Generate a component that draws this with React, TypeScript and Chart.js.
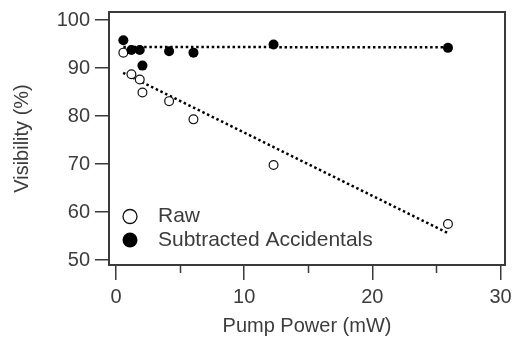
import React, { useEffect, useRef } from "react";
import { Chart, registerables } from "chart.js";

Chart.register(...registerables);

// Data
const pumpPower = [0.57, 1.2, 1.85, 2.06, 4.14, 6.04, 12.29, 25.9];
const rawVisibility = [93.2, 88.7, 87.6, 84.9, 83.1, 79.3, 69.8, 57.5];
const subtractedVisibility = [95.8, 93.75, 93.75, 90.5, 93.5, 93.2, 94.9, 94.2];

const rawFitX = [0.55, 25.9];
const rawFitY = [89.0, 55.6];
const subFitX = [0.57, 25.9];
const subFitY = [94.4, 94.3];

const yTicks = [50, 60, 70, 80, 90, 100];
const xTicks = [0, 10, 20, 30];
const xMinorTicks = [5, 15, 25];

const legendLabels = ["Raw", "Subtracted Accidentals"];

const FONT = "'Liberation Sans', Arial, sans-serif";
const TEXT = "#3c3c3c";
const AXIS = "#3a3a3a";

const toPts = (xs: number[], ys: number[]) => xs.map((x, i) => ({ x, y: ys[i] }));

const boxPlugin = {
  id: "boxAndExtras",
  afterDraw(chart: any) {
    const { ctx, chartArea, scales } = chart;
    const { left, right, top, bottom } = chartArea;
    ctx.save();
    // frame
    ctx.strokeStyle = AXIS;
    ctx.lineWidth = 2;
    ctx.strokeRect(left, top, right - left, bottom - top);
    // minor x ticks
    ctx.lineWidth = 1.5;
    ctx.beginPath();
    xMinorTicks.forEach((v) => {
      const px = Math.round(scales.x.getPixelForValue(v)) + 0.5;
      ctx.moveTo(px, bottom);
      ctx.lineTo(px, bottom + 8);
    });
    ctx.stroke();
    // legend
    const lx = left + 21;
    const rows = [top + 204.5, top + 228];
    ctx.font = `21px ${FONT}`;
    ctx.textBaseline = "middle";
    ctx.textAlign = "left";
    rows.forEach((y, i) => {
      ctx.beginPath();
      ctx.arc(lx, y, i === 0 ? 7 : 7.5, 0, Math.PI * 2);
      if (i === 0) {
        ctx.fillStyle = "#fff";
        ctx.fill();
        ctx.lineWidth = 1.3;
        ctx.strokeStyle = "#111";
        ctx.stroke();
      } else {
        ctx.fillStyle = "#000";
        ctx.fill();
      }
      ctx.fillStyle = TEXT;
      ctx.fillText(legendLabels[i], left + 49, y);
    });
    ctx.restore();
  },
};

export default function App() {
  const ref = useRef<HTMLCanvasElement>(null);

  useEffect(() => {
    document.body.style.margin = "0";
    const canvas = ref.current!;
    const chart = new Chart(canvas, {
      type: "scatter",
      data: {
        datasets: [
          {
            label: legendLabels[0],
            data: toPts(pumpPower, rawVisibility),
            pointStyle: "circle",
            pointRadius: 4.4,
            pointBackgroundColor: "#fff",
            pointBorderColor: "#111",
            pointBorderWidth: 1.2,
            showLine: false,
            order: 1,
          },
          {
            label: legendLabels[1],
            data: toPts(pumpPower, subtractedVisibility),
            pointStyle: "circle",
            pointRadius: 5,
            pointBackgroundColor: "#000",
            pointBorderColor: "#000",
            pointBorderWidth: 0,
            showLine: false,
            order: 0,
          },
          {
            label: "Raw fit",
            data: toPts(rawFitX, rawFitY),
            showLine: true,
            borderColor: "#000",
            borderWidth: 2.5,
            borderDash: [2.5, 2.7],
            pointRadius: 0,
            order: 2,
          },
          {
            label: "Subtracted fit",
            data: toPts(subFitX, subFitY),
            showLine: true,
            borderColor: "#000",
            borderWidth: 2.5,
            borderDash: [2.5, 2.7],
            pointRadius: 0,
            order: 2,
          },
        ],
      },
      options: {
        responsive: false,
        animation: false,
        devicePixelRatio: 1,
        layout: { padding: { top: 12, right: 9, left: 0, bottom: 0 } },
        plugins: { legend: { display: false }, tooltip: { enabled: false } },
        scales: {
          x: {
            type: "linear",
            min: -0.55,
            max: 30.35,
            afterBuildTicks: (s: any) => {
              s.ticks = xTicks.map((v) => ({ value: v }));
            },
            afterFit: (s: any) => {
              s.height = 74;
              s.paddingLeft = 0;
              s.paddingRight = 0;
            },
            grid: {
              drawOnChartArea: false,
              drawTicks: true,
              tickLength: 15,
              color: AXIS,
              lineWidth: 1.5,
            },
            border: { display: false },
            ticks: {
              font: { size: 20, family: FONT },
              color: TEXT,
              padding: 5,
              maxRotation: 0,
              autoSkip: false,
            },
            title: {
              display: true,
              text: "Pump Power (mW)",
              font: { size: 20, family: FONT },
              color: TEXT,
              padding: { top: 0, bottom: 1 },
            },
          },
          y: {
            type: "linear",
            min: 48.96,
            max: 101.67,
            afterBuildTicks: (s: any) => {
              s.ticks = yTicks.map((v) => ({ value: v }));
            },
            afterFit: (s: any) => {
              s.width = 109;
              s.paddingTop = 0;
              s.paddingBottom = 0;
            },
            grid: {
              drawOnChartArea: false,
              drawTicks: true,
              tickLength: 14,
              color: AXIS,
              lineWidth: 1.5,
            },
            border: { display: false },
            ticks: {
              font: { size: 20, family: FONT },
              color: TEXT,
              padding: 5,
              autoSkip: false,
            },
            title: {
              display: true,
              text: "Visibility (%)",
              font: { size: 20, family: FONT },
              color: TEXT,
              padding: { top: 10.5, bottom: 0 },
            },
          },
        },
      },
      plugins: [boxPlugin],
    });
    return () => chart.destroy();
  }, []);

  return (
    <div style={{ position: "fixed", left: 0, top: 0, width: 514, height: 339, background: "#fff" }}>
      <canvas ref={ref} width={514} height={339} style={{ width: 514, height: 339, display: "block" }} />
    </div>
  );
}
